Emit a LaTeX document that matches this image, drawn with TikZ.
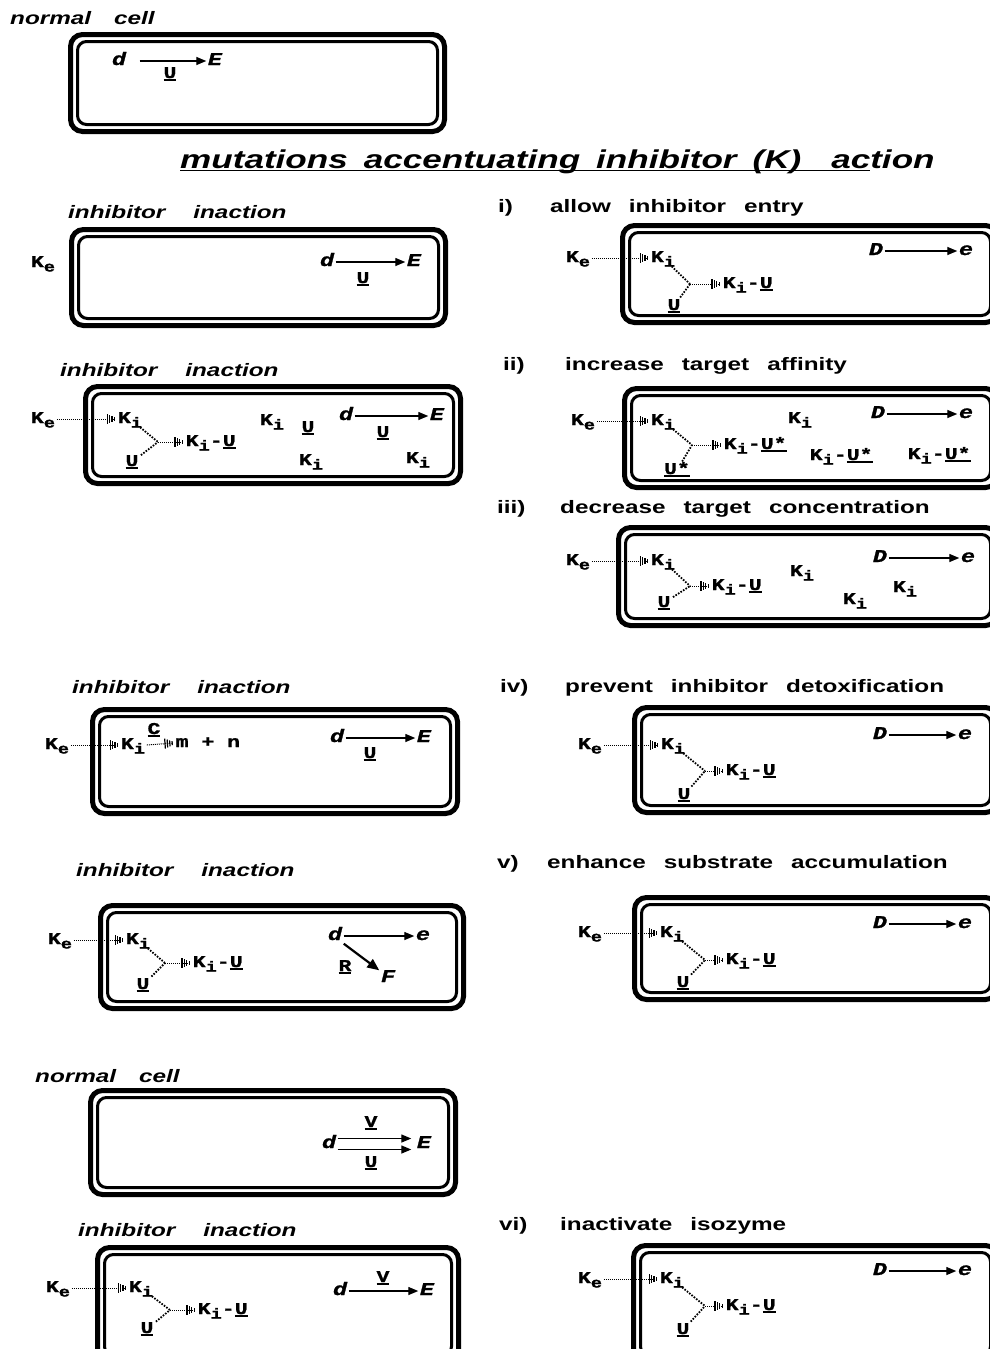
\documentclass[tikz,border=0pt]{standalone}
\usepackage{fontspec}
\usetikzlibrary{arrows.meta}
\newfontfamily\cmf[FakeStretch=1.3,FakeBold=1.2]{Liberation Mono}
\newfontfamily\saf[FakeStretch=1.35]{Liberation Sans}
\newfontfamily\saft[FakeStretch=1.36]{Liberation Sans}
\newcommand\ul[1]{\setbox0\hbox{#1}\leavevmode\rlap{\rule[-2.8pt]{\wd0}{1.5pt}}\box0}
\newcommand\Ks[1]{K\raisebox{-4.5pt}{\fontsize{14.5}{14.5}\selectfont #1}}
\newcommand\KU[1]{\Ks{i}-\ul{#1}}
\newcommand\cellbox[4]{%
  \draw[outerb] (#1+2.5,#2+2.5) rectangle (#3-2.5,#4-2.5);
  \draw[innerb] (#1+9.5,#2+9.5) rectangle (#3-9.5,#4-9.5);}
% prefix, Ke, Ki, U, junction, KU west, U text, KU text
\newcommand\mot[8]{%
  \node[mono] (#1ke) at (#2) {\Ks{e}};
  \node[mono] (#1ki) at (#3) {\Ks{i}};
  \node[mono] (#1u) at (#4) {\ul{#7}};
  \coordinate (#1j) at (#5);
  \node[mono,anchor=west] (#1ku) at (#6) {#8};
  \draw[kdot,hatch] (#1ke.east) -- (#1ki.west);
  \draw[ydot] (#1ki) -- (#1j);
  \draw[ydot] (#1u) -- (#1j);
  \draw[kdot,hatch] (#1j) -- (#1ku.west);}
\tikzset{
  outerb/.style={line width=5pt, rounded corners=12pt},
  innerb/.style={line width=3pt, rounded corners=9pt},
  lab/.style={font=\saf\bfseries\itshape\fontsize{18}{20}\selectfont, inner sep=0pt, anchor=west, text height=13pt, text depth=0pt},
  rom/.style={font=\saf\bfseries\fontsize{18}{20}\selectfont, inner sep=0pt, anchor=west, text height=13pt, text depth=0pt},
  ttl/.style={font=\saft\bfseries\itshape\fontsize{25.8}{28}\selectfont, inner sep=0pt, anchor=west},
  mono/.style={font=\cmf\bfseries\fontsize{16.5}{16.5}\selectfont, inner sep=1.5pt, text height=10pt, text depth=2pt},
  itm/.style={font=\cmf\bfseries\itshape\fontsize{18}{18}\selectfont, inner sep=1.5pt, text height=10pt, text depth=2pt},
  kdot/.style={line width=1pt, dash pattern=on 1pt off 1pt},
  ydot/.style={line width=1.8pt, dash pattern=on 1.6pt off 1.4pt, shorten <=1pt},
  hatch/.style={-{Bar[width=10pt,line width=1.2pt,sep=1.2pt]Bar[width=8pt,line width=1.2pt,sep=1.2pt]Bar[width=6pt,line width=1.2pt,sep=1.2pt]Bar[width=4pt,line width=1.2pt,sep=1.2pt]}},
  rxn/.style={line width=1.4pt, -{Triangle[length=10pt,width=8pt]}},
}
\begin{document}
\begin{tikzpicture}[x=1pt,y=-1pt]
\useasboundingbox (0,0) rectangle (989,1349);
% ---------- top normal cell
\node[lab] (l1) at (10,18) {normal\hspace{23pt}cell};
\cellbox{68}{32}{447}{134}
\node[itm] (c1d) at (119,61) {d};
\node[itm] (c1E) at (215,61) {E};
\node[mono] (c1U) at (170,74) {\ul{U}};
\draw[rxn] ([xshift=12pt]c1d.east) -- (c1E.west);
% ---------- title
\node[ttl] (title) at (180,162) {\ul{mutations\hspace{16pt}accentuating\hspace{16pt}inhibitor\hspace{16pt}(K)\hspace{30pt}ac}tion};
% ---------- left column
\node[lab] (l2) at (68,212) {inhibitor\hspace{28pt}inaction};
\cellbox{69}{227}{448}{328}
\node[mono] (c2ke) at (43,263) {\Ks{e}};
\node[itm] (c2d) at (327,262) {d};
\node[itm] (c2E) at (414,262) {E};
\node[mono] (c2U) at (363,279) {\ul{U}};
\draw[rxn] (c2d.east) -- (c2E.west);

\node[lab] (l3) at (60,370) {inhibitor\hspace{28pt}inaction};
\cellbox{83}{384}{463}{486}
\mot{c3}{43,419}{130,419}{132,462}{158,442}{184,442}{U}{\KU{U}}
\node[mono] (c3k2) at (272,421) {\Ks{i}};
\node[mono] (c3u2) at (308,428) {\ul{U}};
\node[itm] (c3d) at (346,416) {d};
\node[itm] (c3E) at (437,416) {E};
\node[mono] (c3u3) at (383,433) {\ul{U}};
\node[mono] (c3k3) at (311,461) {\Ks{i}};
\node[mono] (c3k4) at (418,459) {\Ks{i}};
\draw[rxn] (c3d.east) -- (c3E.west);

\node[lab] (l4) at (72,687) {inhibitor\hspace{28pt}inaction};
\cellbox{90}{707}{460}{816}
\node[mono] (c4ke) at (57,745) {\Ks{e}};
\node[mono] (c4ki) at (133,745) {\Ks{i}};
\node[mono,anchor=west] (c4mn) at (174,743) {m + n};
\node[mono] (c4C) at (154,730) {\ul{C}};
\draw[kdot,hatch] (c4ke.east) -- (c4ki.west);
\draw[kdot,hatch] (c4ki.east) -- (c4mn.west);
\node[itm] (c4d) at (337,738) {d};
\node[itm] (c4E) at (424,738) {E};
\node[mono] (c4U) at (370,754) {\ul{U}};
\draw[rxn] (c4d.east) -- (c4E.west);

\node[lab] (l5) at (76,870) {inhibitor\hspace{28pt}inaction};
\cellbox{98}{903}{466}{1011}
\mot{c5}{60,940}{138,940}{143,985}{165,963}{191,963}{U}{\KU{U}}
\node[itm] (c5d) at (335,936) {d};
\node[itm] (c5e) at (423,936) {e};
\node[mono] (c5R) at (345,967) {\ul{R}};
\node[itm] (c5F) at (388,978) {F};
\draw[rxn] (c5d.east) -- (c5e.west);
\draw[line width=2.2pt, -{Triangle[length=12pt,width=10pt]}] (c5d.south east) -- (c5F.north west);

\node[lab] (l6) at (35,1076) {normal\hspace{23pt}cell};
\cellbox{88}{1088}{458}{1197}
\node[itm] (c6d) at (329,1144) {d};
\node[itm] (c6E) at (424,1144) {E};
\node[mono] (c6V) at (371,1123) {\ul{V}};
\node[mono] (c6U) at (371,1163) {\ul{U}};
\draw[rxn] ([yshift=5.5pt]c6d.east) -- ([yshift=5.5pt,xshift=-4pt]c6E.west);
\draw[rxn] ([yshift=-5.5pt]c6d.east) -- ([yshift=-5.5pt,xshift=-4pt]c6E.west);

\node[lab] (l7) at (78,1230) {inhibitor\hspace{28pt}inaction};
\cellbox{95}{1245}{461}{1365}
\mot{c7}{58,1288}{141,1288}{147,1329}{170,1310}{196,1310}{U}{\KU{U}}
\node[itm] (c7d) at (340,1291) {d};
\node[itm] (c7E) at (427,1291) {E};
\node[mono] (c7V) at (383,1278) {\ul{V}};
\draw[rxn] (c7d.east) -- (c7E.west);

% ---------- right column
\node[rom] (n1) at (498,206) {i)};
\node[rom] (r1) at (550,206) {allow\hspace{18pt}inhibitor\hspace{18pt}entry};
\cellbox{620}{223}{1000}{325}
\mot{ci}{578,258}{663,258}{674,306}{690,284}{721,284}{U}{\KU{U}}
\node[itm] (cid) at (876,251) {D};
\node[itm] (cie) at (966,251) {e};
\draw[rxn] (cid.east) -- (cie.west);

\node[rom] (n2) at (503,364) {ii)};
\node[rom] (r2) at (565,364) {increase\hspace{18pt}target\hspace{18pt}affinity};
\cellbox{622}{386}{1000}{490}
\mot{cii}{583,421}{663,421}{677,470}{692,445}{722,445}{U*}{\KU{U*}}
\node[mono] (ciik2) at (800,419) {\Ks{i}};
\node[itm] (ciid) at (878,414) {D};
\node[itm] (ciie) at (966,414) {e};
\draw[rxn] (ciid.east) -- (ciie.west);
\node[mono,anchor=west] (ciiku2) at (808,456) {\KU{U*}};
\node[mono,anchor=west] (ciiku3) at (906,455) {\KU{U*}};

\node[rom] (n3) at (497,507) {iii)};
\node[rom] (r3) at (560,507) {decrease\hspace{18pt}target\hspace{18pt}concentration};
\cellbox{616}{525}{1000}{628}
\mot{ciii}{578,561}{663,561}{664,603}{690,586}{710,586}{U}{\KU{U}}
\node[mono] (ciiik2) at (802,572) {\Ks{i}};
\node[itm] (ciiid) at (880,558) {D};
\node[itm] (ciiie) at (968,558) {e};
\draw[rxn] (ciiid.east) -- (ciiie.west);
\node[mono] (ciiik3) at (855,600) {\Ks{i}};
\node[mono] (ciiik4) at (905,588) {\Ks{i}};

\node[rom] (n4) at (500,686) {iv)};
\node[rom] (r4) at (565,686) {prevent\hspace{18pt}inhibitor\hspace{18pt}detoxification};
\cellbox{632}{705}{1000}{815}
\mot{civ}{590,745}{673,745}{684,795}{705,771}{724,771}{U}{\KU{U}}
\node[itm] (civd) at (880,735) {D};
\node[itm] (cive) at (965,735) {e};
\draw[rxn] (civd.east) -- (cive.west);

\node[rom] (n5) at (497,862) {v)};
\node[rom] (r5) at (547,862) {enhance\hspace{18pt}substrate\hspace{18pt}accumulation};
\cellbox{632}{895}{1000}{1002}
\mot{cv}{590,933}{672,933}{683,983}{705,960}{724,960}{U}{\KU{U}}
\node[itm] (cvd) at (880,924) {D};
\node[itm] (cve) at (965,924) {e};
\draw[rxn] (cvd.east) -- (cve.west);

\node[rom] (n6) at (499,1224) {vi)};
\node[rom] (r6) at (560,1224) {inactivate\hspace{18pt}isozyme};
\cellbox{631}{1243}{1000}{1365}
\mot{cvi}{590,1279}{672,1279}{683,1330}{705,1306}{724,1306}{U}{\KU{U}}
\node[itm] (cvid) at (880,1271) {D};
\node[itm] (cvie) at (965,1271) {e};
\draw[rxn] (cvid.east) -- (cvie.west);
\end{tikzpicture}
\end{document}
